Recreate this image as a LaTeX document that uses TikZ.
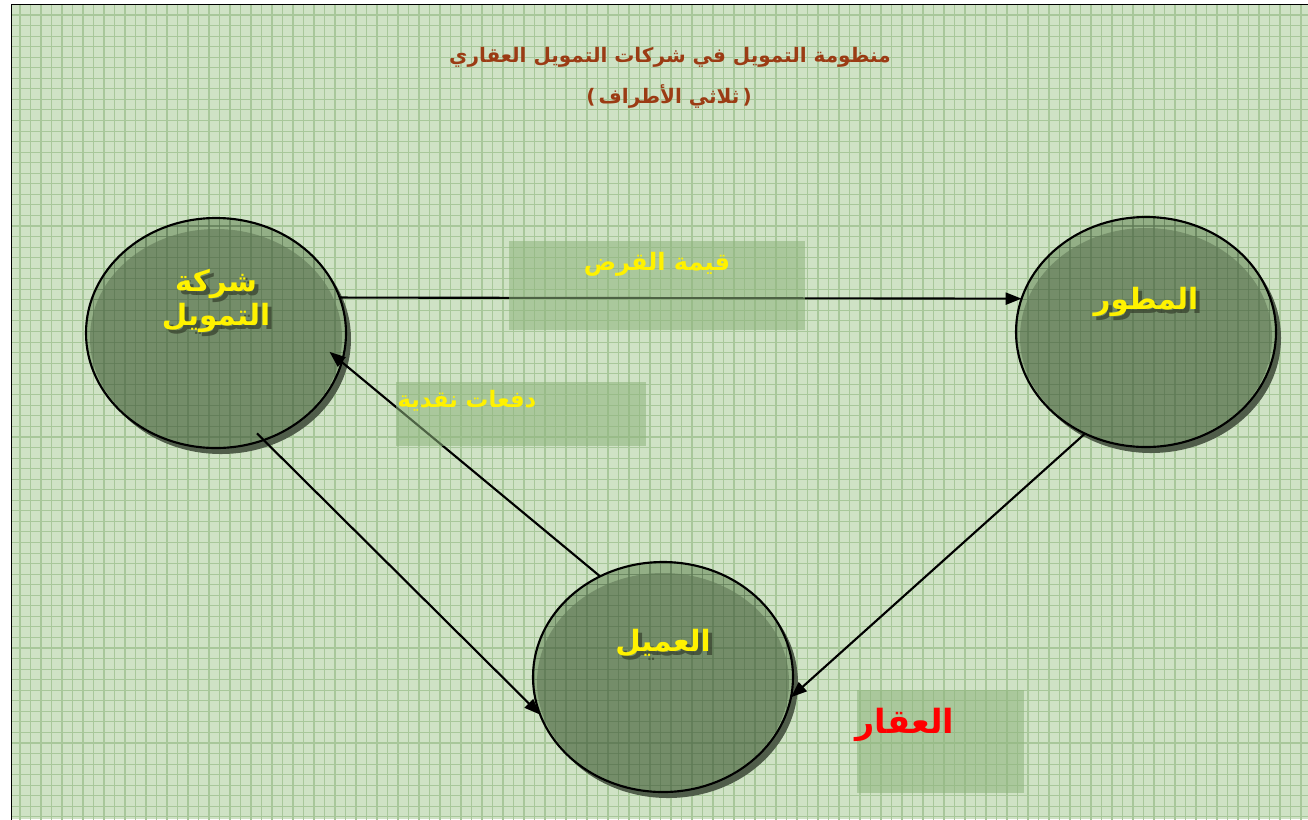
\documentclass[tikz,border=0pt]{standalone}
\usepackage{fontspec}
\usetikzlibrary{shapes.geometric,arrows.meta}
\newfontfamily\arabicfont[Script=Arabic]{DejaVu Sans}
\newfontfamily\latinfont{DejaVu Sans}
\TeXXeTstate=1
\definecolor{bgc}{HTML}{CFE2C5}
\definecolor{gridc}{HTML}{A8C79A}
\definecolor{darkgridc}{HTML}{5F7B56}
\definecolor{lightc}{HTML}{93AF86}
\definecolor{mainc}{HTML}{748D69}
\definecolor{shadowc}{HTML}{505D4A}
\definecolor{boxc}{HTML}{8DB47C}
\definecolor{titlec}{HTML}{9B3B14}
\definecolor{txtshc}{HTML}{38432F}
\newcommand\mygrid[1]{%
  \foreach \i in {0,...,124} {\draw[#1] ({9.5+10.5*\i},4) -- ({9.5+10.5*\i},830);}
  \foreach \j in {0,...,78} {\draw[#1] (11,{4.45+10.55*\j}) -- (1320,{4.45+10.55*\j});}
}
\newcommand\blob[3]{%
  \fill[shadowc] (#1+5,#2+6) ellipse (130 and 115);
  \fill[lightc] (#1,#2) ellipse (130 and 115);
  \fill[mainc] (#1,#2+5) ellipse (126 and 109);
  \begin{scope}
    \clip (#1,#2) ellipse (130 and 115);
    \mygrid{darkgrid}
  \end{scope}
  \node[blobnode] (#3) at (#1,#2) {};
}
\tikzset{
  gridline/.style={draw=gridc, line width=0.8pt},
  darkgrid/.style={draw=darkgridc, line width=0.8pt, opacity=0.75},
  blobnode/.style={ellipse, draw=black, line width=1.6pt, minimum width=195pt, minimum height=172.5pt, inner sep=0pt, outer sep=0pt},
  etxt/.style={text=yellow, font=\arabicfont\bfseries\fontsize{22}{30}\selectfont, align=center, inner sep=0pt},
  etxtsh/.style={etxt, text=txtshc, opacity=0.75},
  lbox/.style={fill=boxc, fill opacity=0.55, inner sep=0pt},
  ltxt/.style={text=yellow, font=\arabicfont\bfseries\fontsize{18}{20}\selectfont, inner sep=0pt},
  titletxt/.style={text=titlec, font=\arabicfont\bfseries\fontsize{15}{18}\selectfont, inner sep=0pt},
  arr/.style={draw=black, line width=1.6pt, -{Triangle[length=12pt,width=9pt]}}
}
\begin{document}
\begin{tikzpicture}[x=0.75pt,y=-0.75pt]
\useasboundingbox (0,0) rectangle (1308,819);
\fill[bgc] (11,4) rectangle (1308,819);
\begin{scope}
  \clip (11,4) rectangle (1308,819);
  \mygrid{gridline}
  \draw[black, line width=2.2pt] (11,4) rectangle (1320,830);
\end{scope}

% title
\node[titletxt] (title1) at (670,57) {\beginR منظومة التمويل في شركات التمويل العقاري\endR};
\node[titletxt] (title2) at (669,96) {{\latinfont (}\,\beginR ثلاثي الأطراف\endR\,{\latinfont )}};

% ellipses
\blob{216}{333}{fin}
\blob{1146}{332}{dev}
\blob{663}{677}{cli}

% ellipse texts
\node[etxtsh] (fintxtsh) at (220,305) {\beginR شركة\endR\\[-4pt]\beginR التمويل\endR};
\node[etxt] (fintxt) at (216,301) {\beginR شركة\endR\\[-4pt]\beginR التمويل\endR};
\node[etxtsh] (devtxtsh) at (1150,306) {\beginR المطور\endR};
\node[etxt] (devtxt) at (1146,302) {\beginR المطور\endR};
\node[etxtsh] (clitxtsh) at (667,647) {\beginR العميل\endR};
\node[etxt] (clitxt) at (663,643) {\beginR العميل\endR};

% connectors
\draw[arr] (fin.16) -- (dev.165);
\draw[arr, shorten >=-12pt] (cli.122) -- (fin.-13);
\draw[arr, shorten <=-7pt] (fin.-66) -- (cli.-163);
\draw[arr] (dev.-121.5) -- (cli.-9);

% label boxes
\node[lbox, minimum width=222pt, minimum height=66.75pt] (loanbox) at (657,285.5) {};
\node[lbox, minimum width=187.5pt, minimum height=48pt] (cashbox) at (521,414) {};
\node[lbox, minimum width=125.25pt, minimum height=77.25pt] (propbox) at (940.5,741.5) {};

\node[ltxt] (loantxt) at (657,264) {\beginR قيمة القرض\endR};
\node[ltxt, font=\arabicfont\bfseries\fontsize{17}{20}\selectfont] (cashtxt) at (467,401) {\beginR دفعات نقدية\endR};
\node[text=red, font=\arabicfont\bfseries\fontsize{25}{30}\selectfont, inner sep=0pt] (proptxt) at (905,725) {\beginR العقار\endR};
\end{tikzpicture}
\end{document}
